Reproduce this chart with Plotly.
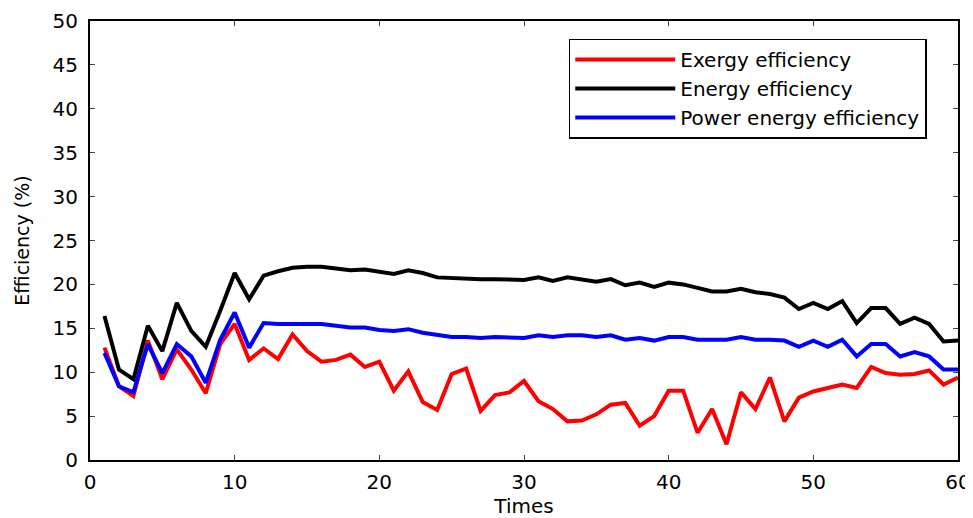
import plotly.graph_objects as go

times = list(range(1, 61))

exergy = [12.8, 8.4, 7.3, 13.6, 9.2, 12.6, 10.3, 7.6, 13.2, 15.5,
          11.4, 12.7, 11.5, 14.3, 12.4, 11.2, 11.4, 12.0, 10.6, 11.2,
          7.9, 10.1, 6.6, 5.7, 9.8, 10.4, 5.6, 7.4, 7.7, 9.0,
          6.7, 5.8, 4.4, 4.5, 5.2, 6.3, 6.5, 3.9, 5.0, 7.9,
          7.9, 3.1, 5.8, 1.8, 7.7, 5.8, 9.4, 4.4, 7.1, 7.8,
          8.2, 8.6, 8.2, 10.6, 9.9, 9.7, 9.8, 10.2, 8.6, 9.4]

energy = [16.4, 10.3, 9.2, 15.3, 12.4, 17.9, 14.7, 12.9, 17.0, 21.3,
          18.3, 21.0, 21.5, 21.9, 22.0, 22.0, 21.8, 21.6, 21.7, 21.4,
          21.2, 21.6, 21.3, 20.8, 20.7, 20.7, 20.6, 20.6, 20.5, 20.5,
          20.8, 20.4, 20.8, 20.5, 20.3, 20.6, 19.9, 20.2, 19.7, 20.2,
          20.0, 19.6, 19.2, 19.2, 19.5, 19.1, 18.9, 18.5, 17.2, 17.9,
          17.2, 18.1, 15.6, 17.3, 17.3, 15.5, 16.2, 15.5, 13.5, 13.6]

power = [12.2, 8.4, 7.7, 13.2, 9.9, 13.2, 11.8, 8.8, 13.7, 16.8,
         12.8, 15.6, 15.5, 15.5, 15.5, 15.5, 15.3, 15.1, 15.1, 14.8,
         14.7, 14.9, 14.5, 14.2, 14.0, 14.0, 13.9, 14.0, 13.9, 13.9,
         14.2, 14.0, 14.2, 14.2, 14.0, 14.2, 13.7, 13.9, 13.6, 14.0,
         14.0, 13.7, 13.7, 13.7, 14.0, 13.7, 13.7, 13.6, 12.9, 13.6,
         12.9, 13.7, 11.8, 13.2, 13.2, 11.8, 12.3, 11.8, 10.3, 10.3]

x_ticks = [0, 10, 20, 30, 40, 50, 60]
y_ticks = [0, 5, 10, 15, 20, 25, 30, 35, 40, 45, 50]

FONT = "DejaVu Sans, Arial, sans-serif"

fig = go.Figure()
fig.add_trace(go.Scatter(x=times, y=exergy, mode="lines", name="Exergy efficiency",
                         line=dict(color="#ff0000", width=4)))
fig.add_trace(go.Scatter(x=times, y=energy, mode="lines", name="Energy efficiency",
                         line=dict(color="#000000", width=4)))
fig.add_trace(go.Scatter(x=times, y=power, mode="lines", name="Power energy efficiency",
                         line=dict(color="#0000ff", width=4)))

# page body has an 8px margin, so the figure is sized/padded to compensate
fig.update_layout(
    width=965, height=510,
    margin=dict(l=82, r=15, t=13, b=58, autoexpand=False),
    paper_bgcolor="white", plot_bgcolor="white",
    font=dict(family=FONT, size=20, color="black"),
    showlegend=True,
    legend=dict(x=0.964, y=0.96, xanchor="right", yanchor="top",
                bgcolor="white", bordercolor="black", borderwidth=1.5,
                font=dict(family=FONT, size=20, color="black"),
                tracegroupgap=0, itemwidth=100),
)
fig.update_xaxes(range=[0, 60], tickvals=x_ticks, ticks="inside", ticklen=5,
                 showline=True, linecolor="black", linewidth=2, mirror="ticks",
                 showgrid=False, zeroline=False, automargin=False,
                 ticklabelstandoff=3, ticklabeloverflow="allow",
                 title=dict(text="Times", font=dict(size=20), standoff=12),
                 tickfont=dict(size=20))
fig.update_yaxes(range=[0, 50], tickvals=y_ticks, ticks="inside", ticklen=5,
                 showline=True, linecolor="black", linewidth=2, mirror="ticks",
                 showgrid=False, zeroline=False, automargin=False,
                 ticklabelstandoff=6,
                 title=dict(text="Efficiency (%)", font=dict(size=19), standoff=18),
                 tickfont=dict(size=20))

fig.write_html("out.html")
